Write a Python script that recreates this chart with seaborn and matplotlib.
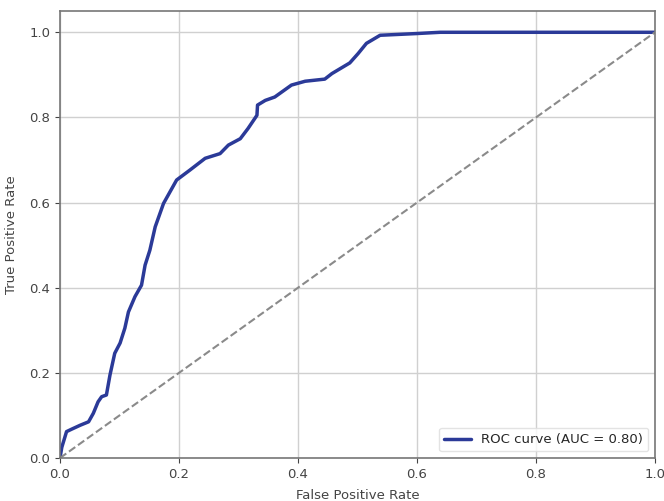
import numpy as np
import pandas as pd
import seaborn as sns
import matplotlib
matplotlib.use('Agg')
import matplotlib.pyplot as plt

# pontos da curva ROC
fpr = [0.0, 0.003, 0.011, 0.020, 0.034, 0.048, 0.056, 0.064, 0.070, 0.078,
       0.084, 0.092, 0.101, 0.109, 0.115, 0.126, 0.137, 0.143, 0.151, 0.160,
       0.174, 0.196, 0.218, 0.244, 0.269, 0.283, 0.303, 0.316, 0.331, 0.332,
       0.345, 0.361, 0.389, 0.412, 0.445, 0.457, 0.487, 0.501, 0.515, 0.538,
       0.599, 0.639, 1.0]
tpr = [0.0, 0.025, 0.062, 0.068, 0.077, 0.085, 0.105, 0.132, 0.144, 0.148,
       0.195, 0.246, 0.270, 0.305, 0.343, 0.379, 0.406, 0.453, 0.488, 0.543,
       0.598, 0.653, 0.676, 0.704, 0.715, 0.735, 0.750, 0.774, 0.805, 0.829,
       0.840, 0.848, 0.876, 0.885, 0.890, 0.903, 0.928, 0.950, 0.974, 0.993,
       0.997, 1.0, 1.0]
auc_label = 'ROC curve (AUC = 0.80)'
diag = [0.0, 1.0]

sns.set_style('whitegrid')
plt.rcParams['font.family'] = ['DejaVu Sans']

fig = plt.figure(figsize=(6.64, 5.01), dpi=100)
ax = fig.add_axes([60 / 664, 43 / 501, 595 / 664, 447 / 501])

df = pd.DataFrame({'fpr': fpr, 'tpr': tpr})
sns.lineplot(data=df, x='fpr', y='tpr', sort=False, estimator=None,
             color='#2b3a98', linewidth=2.5, label=auc_label, ax=ax)
sns.lineplot(x=diag, y=diag, color='#8a8a8a', linestyle='--', linewidth=1.5,
             ax=ax)

ax.set_xlim(0, 1)
ax.set_ylim(0, 1.05)
ax.set_xticks([0, 0.2, 0.4, 0.6, 0.8, 1.0])
ax.set_yticks([0, 0.2, 0.4, 0.6, 0.8, 1.0])
ax.set_xlabel('False Positive Rate', fontsize=9.5, color='#444444', labelpad=6)
ax.set_ylabel('True Positive Rate', fontsize=9.5, color='#444444', labelpad=8)
ax.tick_params(axis='both', labelsize=9.5, colors='#444444', length=3.5,
               direction='out', bottom=True, left=True)
ax.grid(True, color='#d0d0d0', linewidth=1)
for s in ax.spines.values():
    s.set_color('#777777')
    s.set_linewidth(1.2)
ax.legend(loc='lower right', fontsize=9.5, frameon=True, edgecolor='#dddddd')

fig.savefig('out.png', dpi=100)
